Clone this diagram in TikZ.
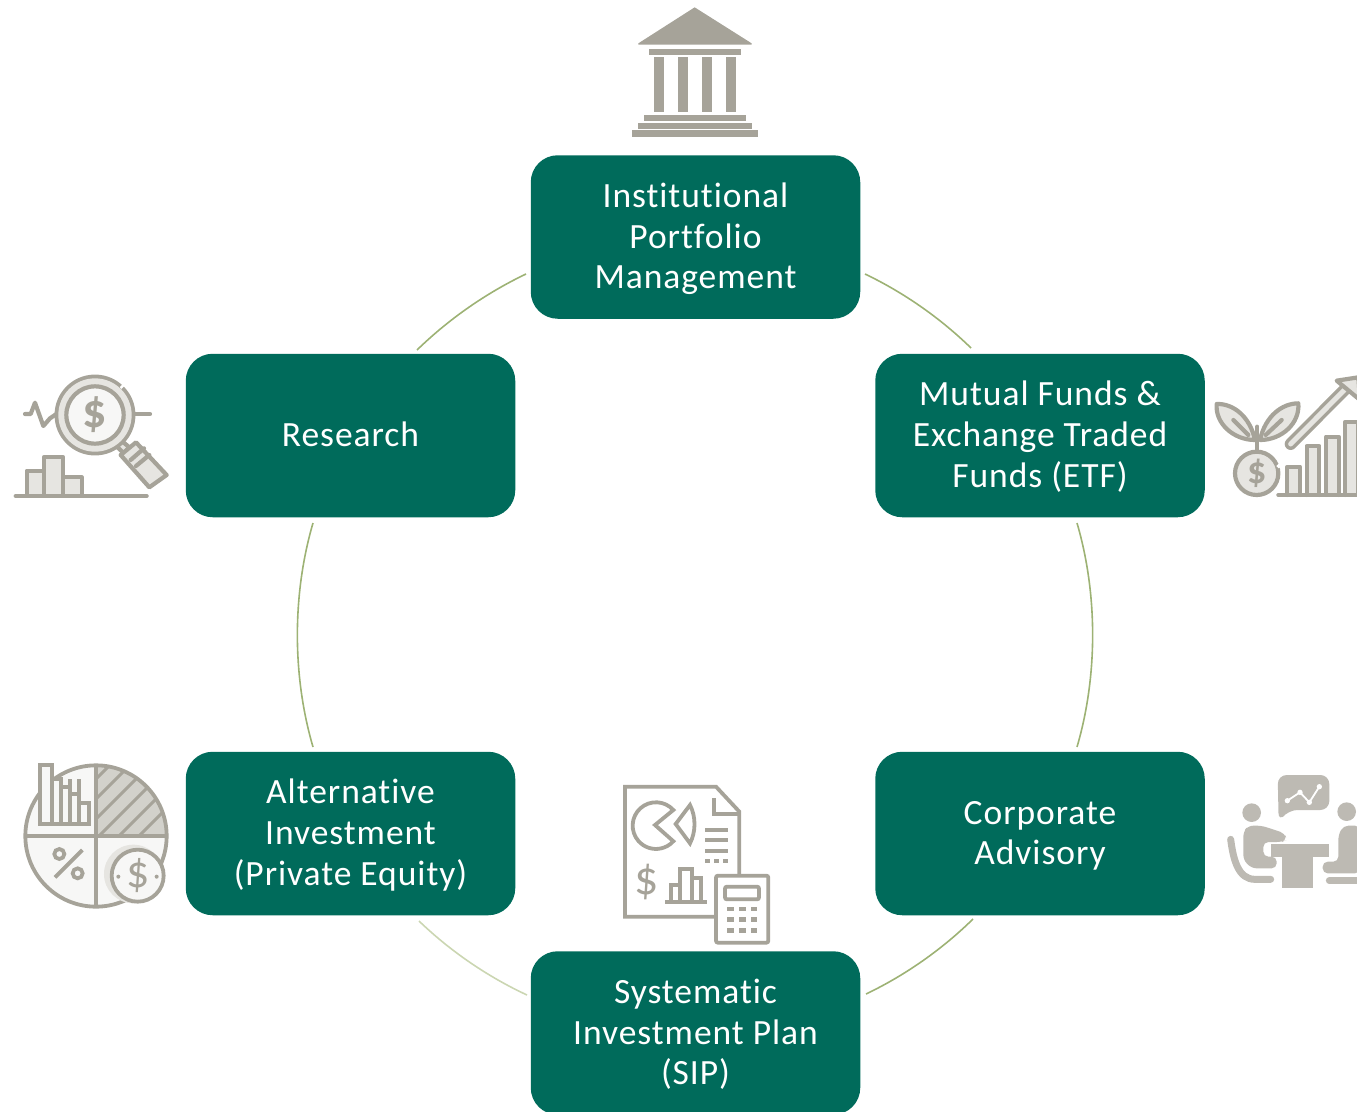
\documentclass[tikz,border=0pt]{standalone}
\usepackage{fontspec}
\setmainfont{Carlito}[Ligatures=NoCommon]
\newfontfamily\boxfont{Carlito}[Ligatures=NoCommon,LetterSpace=2.7]
\definecolor{teal}{HTML}{006B5B}
\definecolor{ring}{HTML}{9DB274}
\definecolor{ringlt}{HTML}{CBD6B2}
\definecolor{ico}{HTML}{A6A399}
\definecolor{icob}{HTML}{BDBAB3}
\definecolor{ltf}{HTML}{E6E5E1}
\definecolor{vlt}{HTML}{F7F7F6}
\definecolor{hat}{HTML}{D2D1CB}
\newcommand{\Ts}{\rule{0pt}{30pt}}
\newcommand{\Bs}{\rule[-8pt]{0pt}{8pt}}
\tikzset{
  box/.style={draw=none,fill=teal,rounded corners=27pt,minimum width=329.5pt,minimum height=163.5pt,inner sep=0pt,
    align=center,text=white,font=\boxfont\fontsize{35.5}{40.8}\selectfont},
  arcg/.style={draw=ring,line width=1.6pt},
  arcl/.style={draw=ringlt,line width=1.6pt},
  lnk/.style={looseness=0.85},
  st/.style={draw=ico,line width=4.2pt,line cap=round,line join=round},
  sq/.style={draw=ico,line width=3.8pt,line cap=butt,line join=miter},
  dollar/.style={text=ico,inner sep=0pt,font=\bfseries\fontsize{#1}{#1}\selectfont},
  dollarn/.style={text=ico,inner sep=0pt,font=\fontsize{#1}{#1}\selectfont},
}
\begin{document}
\begin{tikzpicture}[x=1pt,y=-1pt]
\useasboundingbox (0,0) rectangle (1357,1111);
\clip (0,0) rectangle (1357,1111);
% boxes
\node[box] (inst) at (695.5,237) {\Ts Institutional\\Portfolio\\Management\Bs};
\node[box] (mf) at (1040,435.5) {\Ts Mutual Funds \&\\Exchange Traded\\Funds (ETF)\Bs};
\node[box] (corp) at (1040,833.5) {\Ts Corporate\\Advisory\Bs};
\node[box] (sip) at (695.5,1033) {\Ts Systematic\\Investment Plan\\(SIP)\Bs};
\node[box] (alt) at (350.5,833.5) {\Ts Alternative\\Investment\\(Private Equity)\Bs};
\node[box] (res) at (350.5,435.5) {\Ts Research\Bs};
% ring ends
\coordinate (a1) at (865,274);
\coordinate (a2) at (971,348);
\coordinate (b1) at (1077,523);
\coordinate (b2) at (1077,747);
\coordinate (c1) at (973,919);
\coordinate (c2) at (866,994);
\coordinate (d1) at (527,995);
\coordinate (d2) at (419,921);
\coordinate (e1) at (313,747);
\coordinate (e2) at (313,523);
\coordinate (f1) at (417,350);
\coordinate (f2) at (526,274);
\draw[arcg] (a1) to[bend left=9.35,lnk] (a2);
\draw[arcg] (b1) to[bend left=16.3,lnk] (b2);
\draw[arcg] (c1) to[bend left=9.5,lnk] (c2);
\draw[arcl] (d1) to[bend left=9.5,lnk] (d2);
\draw[arcg] (e1) to[bend left=16.3,lnk] (e2);
\draw[arcg] (f1) to[bend left=9.35,lnk] (f2);

% bank
\begin{scope}[shift={(610,0)},scale=1/3]
\fill[ico,line join=round] (254,22) -- (425,130) -- (425,134) -- (85,134) -- (85,130) -- cycle;
\fill[ico] (118,146) rectangle (392,166);
\foreach \x in {132,204,276,348} \fill[ico] (\x,172) rectangle (\x+30,337);
\fill[ico] (103,344) rectangle (408,363);
\fill[ico] (85,368) rectangle (425,387);
\fill[ico] (67,391) rectangle (443,410);
\end{scope}

% research icon
\begin{scope}[shift={(0,360)},scale=1/3]
\draw[st,fill=ltf] (80,402) -- (80,332) -- (133,332) -- (133,402);
\draw[st,fill=ltf] (133,402) -- (133,290) -- (188,290) -- (188,402);
\draw[st,fill=ltf] (190,402) -- (190,352) -- (245,352) -- (245,402);
\draw[st] (47,408) -- (440,408);
\draw[st] (75,162) -- (92,162) -- (105,128) -- (130,198) -- (150,175) -- (172,160);
\draw[st] (395,162) -- (450,162);
\draw[st,fill=ltf] (362,240) -- (388,262) -- (372,280) -- (345,255);
\draw[st,fill=ltf] (408,247) -- (500,345) -- (448,382) -- (362,285) -- cycle;
\draw[st] (392,300) -- (432,265);
\draw[st] (408,318) -- (448,285);
\fill[white] (285,165) circle[radius=118];
\draw[st] (285,165) circle[radius=115];
\fill[ltf] (285,165) circle[radius=110];
\draw[st,fill=vlt] (285,165) circle[radius=86];
\draw[white,line width=2.5pt] (362,84) -- (372,74);
\node[dollar=48] (d1n) at (283,165) {\$};
\end{scope}

% growth icon
\begin{scope}[shift={(1200,360)},scale=1/3]
\draw[st,fill=ltf] (165,240) .. controls (150,170) and (100,130) .. (50,132) .. controls (45,190) and (100,240) .. (165,240) -- cycle;
\draw[st,fill=ltf] (180,240) .. controls (195,170) and (245,130) .. (295,130) .. controls (300,190) and (245,240) .. (180,240) -- cycle;
\draw[st] (100,180) -- (145,225);
\draw[st] (245,180) -- (197,225);
\draw[st] (172,200) -- (172,275);
\draw[st,fill=ltf] (170,340) circle[radius=65];
\draw[white,line width=3pt] (232,315) -- (240,322);
\node[dollar=38] (d2n) at (170,340) {\$};
\draw[draw=ico,line width=12pt,line cap=round] (272,252) -- (435,88);
\draw[draw=ltf,line width=5pt,line cap=round] (272,252) -- (435,88);
\draw[st,fill=ltf] (410,62) -- (475,52) -- (480,120) -- cycle;
\foreach \x/\y in {262/320,320/258,378/230,436/185,494/185}
  \draw[st,fill=ltf] (\x,405) -- (\x,\y) -- (\x+38,\y) -- (\x+38,405);
\draw[st] (235,405) -- (480,405);
\end{scope}

% meeting icon
\begin{scope}[shift={(1210,760)},scale=1/3]
\fill[icob,rounded corners=9pt] (203,45) -- (358,45) -- (358,150) -- (235,150) -- (206,186) -- cycle;
\draw[white,line width=1.8pt,line join=round] (232,122) -- (270,97) -- (298,127) -- (328,80);
\foreach \p/\r in {232/122,270/97,298/127,328/80} \fill[white] (\p,\r) circle[radius=8];
\fill[icob] (125,158) circle[radius=28];
\fill[icob] (410,155) circle[radius=28];
\fill[icob,rounded corners=5pt] (100,215) -- (115,197) -- (155,197) -- (225,220) -- (230,240) -- (215,246) -- (160,246) -- (160,290) -- (200,290) -- (200,325) -- (125,325) -- (100,300) -- cycle;
\fill[icob,rounded corners=5pt] (385,225) -- (400,197) -- (450,197) -- (450,340) -- (338,340) -- (338,305) -- (385,305) -- cycle;
\fill[white] (178,248) rectangle (362,252);
\fill[icob] (182,252) rectangle (358,290);
\fill[icob] (215,285) rectangle (310,385);
\draw[icob,line width=7pt,line cap=round,line join=round] (62,238) .. controls (70,300) and (85,358) .. (135,358) -- (182,358);
\draw[icob,line width=7pt,line cap=round] (358,362) -- (450,362);
\end{scope}

% pie icon
\begin{scope}[shift={(10,750)},scale=1/3]
\fill[vlt] (258,258) circle[radius=212];
\begin{scope}
\clip (258,45) rectangle (475,258);
\clip (258,258) circle[radius=212];
\fill[hat] (258,258) circle[radius=212];
\foreach \c in {345,405,465,525,585,645} \draw[ico,line width=3pt] (\c-258,258) -- (\c,0);
\end{scope}
\draw[sq] (258,258) circle[radius=212];
\draw[sq] (45,258) -- (470,258);
\draw[sq] (258,45) -- (258,470);
\fill[white] (84,40) rectangle (131,90);
\draw[sq,fill=vlt] (90,222) -- (90,45) -- (125,45) -- (125,88) -- (152,88) -- (152,112) -- (180,112) -- (180,132) -- (208,132) -- (208,158) -- (238,158) -- (238,222) -- cycle;
\foreach \x in {125,152,180,208} \draw[sq] (\x,88) -- (\x,222);
\draw[sq] (148,312) circle[radius=15];
\draw[sq] (203,370) circle[radius=15];
\draw[sq] (217,300) -- (135,382);
\fill[ltf] (370,372) circle[radius=88];
\draw[sq,fill=vlt] (383,377) circle[radius=78];
\node[dollarn=46] (d3n) at (383,377) {\$};
\fill[ico] (325,380) circle[radius=6];
\fill[ico] (440,380) circle[radius=6];
\end{scope}

% SIP icon
\begin{scope}[shift={(610,775)},scale=1/3]
\draw[sq] (318,425) -- (45,425) -- (45,35) -- (318,35) -- (388,110) -- (388,300);
\draw[sq] (312,70) -- (312,118) -- (388,118);
\draw[sq] (190,105) arc[start angle=-42,end angle=-318,radius=70] -- (135,150) -- cycle;
\draw[sq] (240,90) .. controls (258,125) and (258,170) .. (240,205) -- (197,147) -- cycle;
\draw[sq] (285,165) -- (355,165);
\draw[sq] (285,195) -- (355,195);
\draw[sq] (285,228) -- (355,228);
\foreach \x in {285,312,340} \fill[ico] (\x,252) rectangle (\x+15,265);
\node[dollarn=48] (d4n) at (110,322) {\$};
\draw[sq] (165,380) -- (290,380);
\draw[sq] (183,380) -- (183,330) -- (210,330) -- (210,282) -- (245,282) -- (245,310) -- (272,310) -- (272,380);
\draw[sq] (210,330) -- (210,380);
\draw[sq] (245,310) -- (245,380);
\draw[sq,fill=white,rounded corners=2pt] (318,302) rectangle (475,503);
\draw[sq,rounded corners=2pt] (345,335) rectangle (447,373);
\foreach \y in {395,427,460} \foreach \x in {352,387,422} \fill[ico] (\x,\y) rectangle (\x+20,\y+13);
\end{scope}
\end{tikzpicture}
\end{document}
